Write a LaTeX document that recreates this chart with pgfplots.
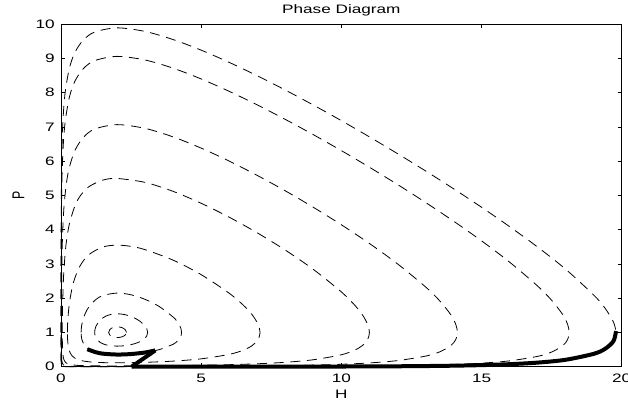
\documentclass[border=0pt]{standalone}
\usepackage{graphicx}
\usepackage{fontspec}
\setmainfont{Liberation Sans}
\usepackage{pgfplots}
\pgfplotsset{compat=1.18}

\newcommand{\wide}[1]{\scalebox{1.4}[1]{#1}}

\begin{document}
\begin{tikzpicture}
\begin{axis}[
    name=ax,
    scale only axis,
    width=420.5pt, height=256.8pt,
    xmin=0, xmax=20, ymin=0, ymax=10,
    xtick={0,5,10,15,20},
    ytick={0,1,2,3,4,5,6,7,8,9,10},
    minor tick num=0,
    tick align=inside,
    tick pos=both,
    major tick length=3pt,
    tick style={black, line width=0.6pt},
    axis line style={black, line width=0.7pt},
    clip=false,
    no markers,
    /pgf/number format/assume math mode=true,
    xticklabel={\wide{\pgfmathprintnumber{\tick}}},
    yticklabel={\wide{\pgfmathprintnumber{\tick}}},
    tick label style={font=\fontsize{9.2}{11}\selectfont, inner sep=0pt},
    xticklabel style={anchor=north, yshift=-5pt},
    yticklabel style={anchor=east, xshift=-4.5pt},
    every axis title shift=0pt,
    title={\wide{Phase Diagram}},
    title style={font=\fontsize{9.2}{11}\selectfont, inner sep=0pt,
        at={(axis description cs:0.5,1)}, anchor=base, yshift=7.7pt},
    xlabel={\wide{H}},
    xlabel style={font=\fontsize{9.2}{11}\selectfont, inner sep=0pt,
        at={(axis description cs:0.5,0)}, anchor=north, yshift=-17.5pt},
    ylabel={\scalebox{1}[1.4]{P}},
    ylabel style={font=\fontsize{9.2}{11}\selectfont, inner sep=0pt,
        at={(axis description cs:-0.076,0.5)}, anchor=center},
    orbit/.style={black, line width=0.6pt, dash pattern=on 7.5pt off 5pt, smooth},
]

% closed orbits around (2,1)
\addplot[orbit] coordinates {
    (2.334,1) (2.289,1.083) (2.167,1.144) (2,1.166) (1.85,1.144) (1.74,1.083)
    (1.70,1) (1.74,0.925) (1.85,0.870) (2,0.85) (2.167,0.870) (2.289,0.925) (2.334,1)
};

\addplot[orbit] coordinates {
    (1.2026,1) (1.21,1.074) (1.25,1.185) (1.4,1.364) (1.6,1.477) (1.8,1.53)
    (2.0,1.545) (2.2,1.532) (2.4,1.494) (2.6,1.430) (2.8,1.337) (3.0,1.187)
    (3.06,1.107) (3.09,1.0) (3.06,0.9) (3.0,0.834) (2.8,0.725) (2.6,0.666)
    (2.4,0.629) (2.2,0.608) (2.0,0.601) (1.8,0.609) (1.6,0.639) (1.4,0.708)
    (1.25,0.835) (1.21,0.929) (1.2026,1)
};

\addplot[orbit] coordinates {
    (0.716,1) (0.73,1.165) (0.75,1.262) (0.85,1.529) (1.0,1.754) (1.25,1.966)
    (1.5,2.08) (2.0,2.15) (2.5,2.10) (3.0,1.966) (3.5,1.76) (4.0,1.45)
    (4.1,1.364) (4.2,1.25) (4.28,1.11) (4.301,1) (4.28,0.895) (4.2,0.785)
    (4.1,0.708) (4.0,0.655) (3.5,0.4985) (3.0,0.418) (2.5,0.3735) (2.0,0.359)
    (1.5,0.38) (1.25,0.418) (1.0,0.5005) (0.85,0.609) (0.75,0.777) (0.73,0.851)
    (0.716,1)
};

\addplot[orbit] coordinates {
    (0.2285,1) (0.232,1.17) (0.24,1.322) (0.27,1.641) (0.32,1.966) (0.4,2.312)
    (0.5,2.604) (0.7,2.973) (1.0,3.277) (1.5,3.498) (2,3.55) (2.5,3.513)
    (3,3.4175) (4,3.1115) (5,2.688) (6,2.145) (6.5,1.799) (6.8,1.536)
    (7.0,1.291) (7.05,1.203) (7.1,1.0) (7.05,0.82) (7.0,0.755) (6.8,0.606)
    (6.5,0.482) (6,0.36) (5,0.23) (4,0.1631) (3,0.1273) (2.5,0.1178) (2,0.1143)
    (1.5,0.1193) (1.0,0.1426) (0.7,0.1825) (0.5,0.2465) (0.4,0.3134)
    (0.32,0.418) (0.27,0.553) (0.24,0.735) (0.232,0.85) (0.2285,1)
};

\addplot[orbit] coordinates {
    (0.046,1) (0.047,1.206) (0.05,1.453) (0.06,1.897) (0.08,2.417) (0.1,2.764)
    (0.15,3.331) (0.2,3.698) (0.3,4.175) (0.5,4.706) (0.7,5.004) (1,5.26)
    (1.5,5.451) (2,5.497) (3,5.382) (4,5.12) (5,4.772) (6,4.366) (7,3.909)
    (8,3.405) (9,2.842) (10,2.184) (10.5,1.776) (10.8,1.453) (10.95,1.205)
    (11,1) (10.95,0.82) (10.8,0.653) (10.5,0.492) (10,0.3484) (9,0.2031)
    (8,0.1286) (7,0.0854) (6,0.0588) (5,0.0421) (4,0.0316) (3,0.0254)
    (2,0.0231) (1.5,0.024) (1,0.0281) (0.7,0.0348) (0.5,0.0445) (0.3,0.0687)
    (0.2,0.1013) (0.15,0.1366) (0.1,0.2163) (0.08,0.2874) (0.06,0.4435)
    (0.05,0.653) (0.047,0.818) (0.046,1)
};

\addplot[orbit] coordinates {
    (0.0121,1) (0.0125,1.272) (0.013,1.425) (0.015,1.801) (0.02,2.354)
    (0.03,2.996) (0.05,3.711) (0.08,4.317) (0.12,4.811) (0.2,5.397)
    (0.3,5.829) (0.5,6.321) (0.8,6.699) (1.2,6.940) (2,7.069) (3,6.959)
    (4,6.71) (5,6.383) (6,6.004) (7,5.586) (8,5.136) (9,4.655) (10,4.144)
    (11,3.599) (12,3.005) (13,2.332) (13.5,1.930) (13.9,1.522) (14.08,1.238)
    (14.14,1) (14.08,0.793) (13.9,0.614) (13.5,0.431) (13,0.3084) (12,0.1778)
    (11,0.1099) (10,0.0705) (9,0.0463) (8,0.0309) (7,0.0214) (6,0.015)
    (5,0.0109) (4,0.0083) (3,0.0067) (2,0.0061) (1.2,0.0068) (0.8,0.0084)
    (0.5,0.0116) (0.3,0.0175) (0.2,0.0251) (0.12,0.0408) (0.08,0.0612)
    (0.05,0.1003) (0.03,0.1792) (0.02,0.3024) (0.015,0.481) (0.013,0.67)
    (0.0125,0.77) (0.0121,1)
};

\addplot[orbit] coordinates {
    (0.0021,1) (0.0022,1.327) (0.0023,1.483) (0.003,2.093) (0.005,2.944)
    (0.01,3.922) (0.02,4.815) (0.04,5.659) (0.08,6.466) (0.15,7.162)
    (0.3,7.875) (0.5,8.344) (0.8,8.706) (1.2,8.938) (2,9.062) (3,8.956)
    (4,8.717) (5,8.403) (6,8.041) (7,7.645) (8,7.222) (9,6.776) (10,6.31)
    (11,5.825) (12,5.322) (13,4.798) (14,4.251) (15,3.675) (16,3.054)
    (17,2.355) (17.5,1.94) (17.9,1.516) (18.07,1.235) (18.125,1)
    (18.07,0.794) (17.9,0.617) (17.5,0.4278) (17,0.3023) (16,0.1709)
    (15,0.1034) (14,0.0646) (13,0.0412) (12,0.0267) (11,0.0175) (10,0.0116)
    (9,0.0078) (8,0.0053) (7,0.0037) (6,0.0026) (5,0.0019) (4,0.0014)
    (3,0.0012) (2,0.0011) (1.2,0.0012) (0.8,0.0015) (0.5,0.002) (0.3,0.003)
    (0.15,0.0056) (0.08,0.0102) (0.04,0.0201) (0.02,0.0406) (0.01,0.0845)
    (0.005,0.1869) (0.003,0.3758) (0.0023,0.6354) (0.0022,0.73) (0.0021,1)
};

\addplot[orbit] coordinates {
    (0.001,1) (0.0011,1.507) (0.0012,1.735) (0.0015,2.192) (0.0025,3.024)
    (0.005,3.994) (0.01,4.887) (0.02,5.735) (0.04,6.551) (0.08,7.337)
    (0.15,8.02) (0.3,8.722) (0.5,9.185) (0.8,9.543) (1.2,9.772) (2,9.895)
    (3,9.79) (4,9.553) (5,9.244) (6,8.886) (7,8.496) (8,8.079) (9,7.641)
    (10,7.185) (11,6.712) (12,6.223) (13,5.719) (14,5.197) (15,4.656)
    (16,4.091) (17,3.494) (18,2.846) (19,2.093) (19.4,1.714) (19.7,1.312)
    (19.79,1) (19.7,0.741) (19.4,0.5185) (19,0.3758) (18,0.2023) (17,0.1196)
    (16,0.0736) (15,0.0463) (14,0.0296) (13,0.0191) (12,0.0125) (11,0.0082)
    (10,0.0055) (9,0.0037) (8,0.0025) (7,0.0017) (6,0.0012) (5,0.0009)
    (4,0.0007) (3,0.0006) (2,0.0005) (1.2,0.0006) (0.8,0.0007) (0.5,0.0009)
    (0.3,0.0014) (0.15,0.0026) (0.08,0.0048) (0.04,0.0095) (0.02,0.0189)
    (0.01,0.0383) (0.005,0.0797) (0.0025,0.1751) (0.0015,0.3462)
    (0.0012,0.5092) (0.0011,0.621) (0.001,1)
};

% thick trajectory
\addplot[black, line width=3pt, smooth] coordinates {
    (0.94,0.51) (1.25,0.42) (1.5,0.38) (2,0.355) (2.5,0.37) (3,0.415) (3.36,0.475)
};
\addplot[black, line width=3pt] coordinates {
    (3.36,0.475) (2.52,0.0006)
};
\addplot[black, line width=3pt, smooth] coordinates {
    (2.52,0.0006) (4,0.0007) (6,0.0012) (8,0.0025) (10,0.0055) (12,0.0125)
    (13,0.0191) (14,0.0296) (15,0.0463) (16,0.0736) (17,0.1196) (18,0.2023)
    (19,0.3758) (19.4,0.5185) (19.7,0.741) (19.79,1.0) (19.8,1.04)
};

\end{axis}
\pgfresetboundingbox
\useasboundingbox ([shift={(-45.75pt,-29.5pt)}]ax.south west)
    rectangle ([shift={(4.7pt,18.2pt)}]ax.north east);
\end{tikzpicture}
\end{document}
